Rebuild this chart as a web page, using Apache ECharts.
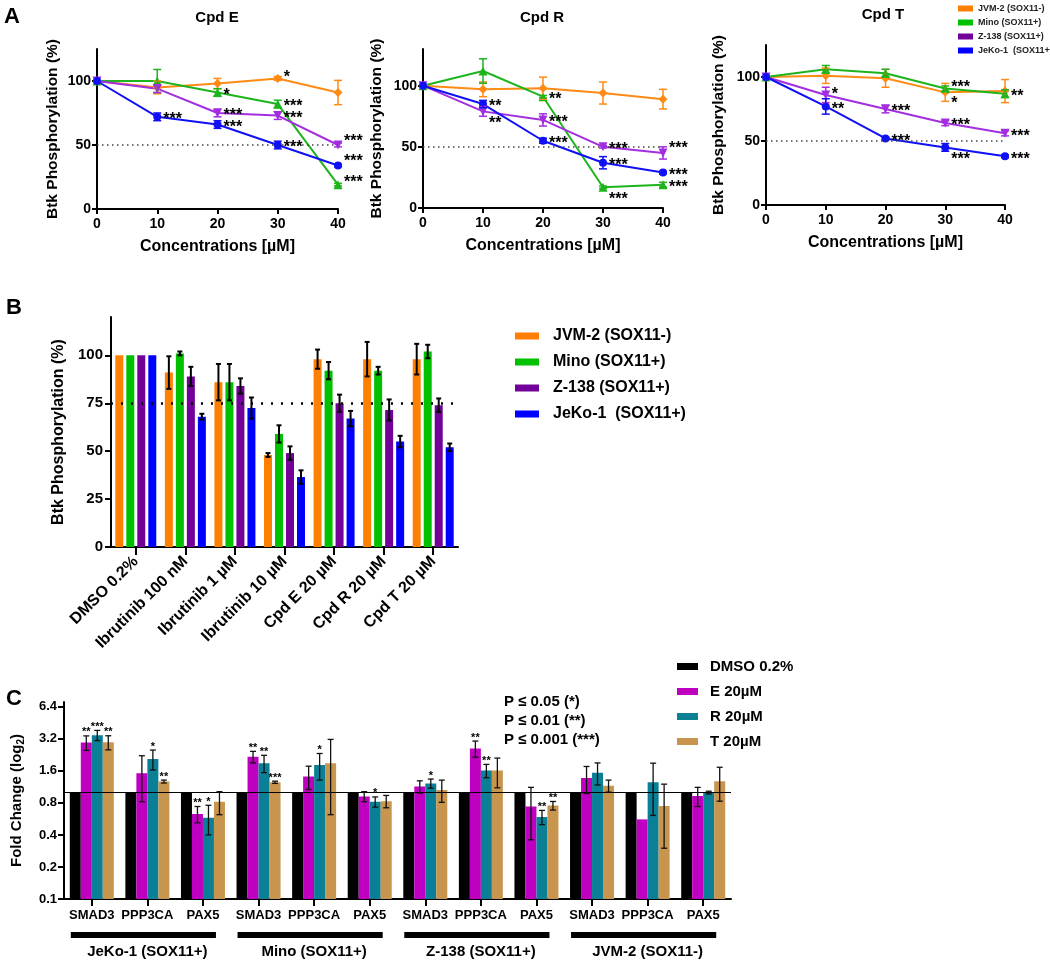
<!DOCTYPE html>
<html>
<head>
<meta charset="utf-8">
<script src="https://cdn.jsdelivr.net/npm/echarts@6.0.0/dist/echarts.min.js"></script>
<style>
  html, body { margin: 0; padding: 0; background: #fff; }
  #main { width: 1050px; height: 961px; }
</style>
</head>
<body>
<div id="main"></div>
<script>
// ---------- panel A : dose response ----------
const conc = [0, 10, 20, 30, 40];
const cellLines = ['JVM-2 (SOX11-)', 'Mino (SOX11+)', 'Z-138 (SOX11+)', 'JeKo-1  (SOX11+)'];
const refA = 50;

// Cpd E
const eJvm = [100, 95, 98, 102, 91];
const eJvmErr = [0, 5, 4, 1.5, 9.5];
const eJvmStars = ['', '', '', '*', ''];
const eMino = [100, 100, 91, 82, 19];
const eMinoErr = [0, 9, 3, 3, 1];
const eMinoStars = ['', '', '*', '***', '***'];
const eZ138 = [100, 94, 75, 73, 50];
const eZ138Err = [0, 3, 3, 3, 1.5];
const eZ138Stars = ['', '', '***', '***', '***'];
const eJeko = [100, 72, 66, 50, 34];
const eJekoErr = [0, 3, 3, 3, 1];
const eJekoStars = ['', '***', '***', '***', '***'];

// Cpd R
const rJvm = [100, 97, 98, 94, 89];
const rJvmErr = [0, 6, 9, 9, 8];
const rJvmStars = ['', '', '', '', ''];
const rMino = [100, 112, 91, 17, 19];
const rMinoErr = [0, 10, 1, 1, 2];
const rMinoStars = ['', '', '**', '***', '***'];
const rZ138 = [100, 79, 72, 50, 45];
const rZ138Err = [0, 4, 5, 1, 5];
const rZ138Stars = ['', '**', '***', '***', '***'];
const rJeko = [100, 85, 55, 37, 29];
const rJekoErr = [0, 3, 2, 5, 1];
const rJekoStars = ['', '**', '***', '***', '***'];

// Cpd T
const tJvm = [100, 101, 99, 88, 89];
const tJvmErr = [0, 6, 7, 7, 9];
const tJvmStars = ['', '', '', '*', ''];
const tMino = [100, 106, 103, 91, 87];
const tMinoErr = [0, 3, 3, 2, 3];
const tMinoStars = ['', '', '', '***', '**'];
const tZ138 = [100, 86, 75, 64, 56];
const tZ138Err = [0, 6, 3, 2, 2];
const tZ138Stars = ['', '*', '***', '***', '***'];
const tJeko = [100, 77, 52, 45, 38];
const tJekoErr = [0, 6, 1, 3, 1];
const tJekoStars = ['', '**', '***', '***', '***'];

// star nudges (chart, series, point, dy px)
const starNudge = [['E', 0, 3, -4], ['E', 1, 4, -5], ['E', 2, 4, -6], ['E', 3, 4, -7],
  ['R', 2, 1, 9], ['R', 1, 3, 9], ['R', 2, 4, -7], ['T', 0, 3, 8], ['T', 3, 3, 9], ['T', 1, 3, -4], ['T', 2, 1, -3]];

// ---------- panel B : bars ----------
const bCats = ['DMSO 0.2%', 'Ibrutinib 100 nM', 'Ibrutinib 1 \u00b5M', 'Ibrutinib 10 \u00b5M', 'Cpd E 20 \u00b5M', 'Cpd R 20 \u00b5M', 'Cpd T 20 \u00b5M'];
const bJvm = [100, 91, 86, 48, 98, 98, 98];
const bJvmErr = [0, 8.5, 9.5, 1, 5, 9, 8];
const bMino = [100, 101, 86, 59, 92, 92, 102];
const bMinoErr = [0, 1, 9.5, 4.5, 4.5, 2, 3.5];
const bZ138 = [100, 89, 84, 49, 75, 71.5, 74];
const bZ138Err = [0, 5, 4, 3.5, 4.5, 5.5, 3.5];
const bJeko = [100, 68, 72.5, 36.5, 67, 55, 52];
const bJekoErr = [0, 1.5, 5.5, 3.5, 4, 3, 2];
const refB = 75;

// ---------- panel C : fold change ----------
const genes = ['SMAD3', 'PPP3CA', 'PAX5'];
const cLines = ['JeKo-1 (SOX11+)', 'Mino (SOX11+)', 'Z-138 (SOX11+)', 'JVM-2 (SOX11-)'];
const cNames = ['DMSO 0.2%', 'E 20\u00b5M', 'R 20\u00b5M', 'T 20\u00b5M'];
const cDmso = [1, 1, 1, 1, 1, 1, 1, 1, 1, 1, 1, 1];
const cE = [2.95, 1.52, 0.63, 2.17, 1.42, 0.92, 1.14, 2.6, 0.74, 1.37, 0.56, 0.93];
const cEErr = [0.46, 0.7, 0.11, 0.27, 0.35, 0.1, 0.15, 0.45, 0.38, 0.39, 0, 0.19];
const cEStars = ['**', '', '**', '**', '', '', '', '**', '', '', '', ''];
const cR = [3.46, 2.07, 0.58, 1.89, 1.82, 0.82, 1.22, 1.61, 0.59, 1.54, 1.25, 1.0];
const cRErr = [0.38, 0.44, 0.18, 0.35, 0.51, 0.09, 0.12, 0.23, 0.09, 0.36, 0.64, 0.03];
const cRStars = ['***', '*', '*', '**', '*', '*', '*', '**', '**', '', '', ''];
const cT = [2.97, 1.27, 0.82, 1.25, 1.89, 0.83, 1.06, 1.61, 0.755, 1.16, 0.75, 1.28];
const cTErr = [0.45, 0.04, 0.2, 0.03, 1.27, 0.11, 0.25, 0.5, 0.07, 0.15, 0.45, 0.45];
const cTStars = ['**', '**', '', '***', '', '', '', '', '**', '', '', ''];
const cTicks = [0.1, 0.2, 0.4, 0.8, 1.6, 3.2, 6.4];

const FONT = '"Liberation Sans", Arial, sans-serif';
const colA = ['#FF8A14', '#1DB41D', '#A32EE0', '#1010F5'];
const colB = ['#FF8000', '#00C000', '#730099', '#0000FF'];
const colC = ['#000000', '#C000C0', '#0B7F96', '#C8954F'];
const symA = ['diamond', 'triangle', 'triangle', 'circle'];

const chart = echarts.init(document.getElementById('main'));

function ax(o) {
  const base = {
    axisLine: { show: true, onZero: false, lineStyle: { color: '#000', width: 2 } },
    axisTick: { show: true, inside: false, length: 5, lineStyle: { color: '#000', width: 2 } },
    axisLabel: { color: '#000', fontFamily: FONT, fontWeight: 'bold', fontSize: 14 },
    splitLine: { show: false },
    nameTextStyle: { color: '#000', fontFamily: FONT, fontWeight: 'bold', fontSize: 15 }
  };
  const r = Object.assign({}, base, o);
  ['axisLine', 'axisTick', 'axisLabel', 'nameTextStyle'].forEach(k => {
    r[k] = Object.assign({}, base[k], o[k] || {});
  });
  return r;
}

// error bars + significance stars, positioned through the axes
function errSeries(xi, yi, xs, means, errs, opt) {
  return {
    type: 'custom', xAxisIndex: xi, yAxisIndex: yi, silent: true, z: opt.z || 5,
    data: means.map((m, i) => [xs[i], m, errs[i]]),
    renderItem(params, api) {
      const i = params.dataIndex;
      const xv = api.value(0), m = api.value(1), e = api.value(2);
      const p = api.coord([xv, m]);
      const x = p[0] + (opt.offset || 0);
      const kids = [];
      let top = p[1];
      const st = { stroke: opt.color, lineWidth: opt.lw };
      if (e > 0) {
        const hi = api.coord([xv, m + e])[1];
        const lo = api.coord([xv, m - e])[1];
        const w = opt.cap / 2;
        kids.push({ type: 'line', shape: { x1: x, y1: hi, x2: x, y2: lo }, style: st });
        kids.push({ type: 'line', shape: { x1: x - w, y1: hi, x2: x + w, y2: hi }, style: st });
        kids.push({ type: 'line', shape: { x1: x - w, y1: lo, x2: x + w, y2: lo }, style: st });
        top = hi;
      }
      const s = opt.stars && opt.stars[i];
      if (s) {
        if (opt.above) {
          kids.push({ type: 'text', style: { text: s, x: x, y: top + 2, align: 'center', verticalAlign: 'bottom', font: 'bold 11px ' + FONT, fill: '#000' } });
        } else {
          const dy = (opt.shift && opt.shift[i]) || 0;
          kids.push({ type: 'text', style: { text: s, x: p[0] + 6, y: p[1] + 3 + dy, align: 'left', verticalAlign: 'middle', font: 'bold 16px ' + FONT, fill: '#000' } });
        }
      }
      return { type: 'group', children: kids };
    }
  };
}

const aCharts = [
  { key: 'E', vals: [eJvm, eMino, eZ138, eJeko], errs: [eJvmErr, eMinoErr, eZ138Err, eJekoErr], stars: [eJvmStars, eMinoStars, eZ138Stars, eJekoStars], yMax: 125 },
  { key: 'R', vals: [rJvm, rMino, rZ138, rJeko], errs: [rJvmErr, rMinoErr, rZ138Err, rJekoErr], stars: [rJvmStars, rMinoStars, rZ138Stars, rJekoStars], yMax: 130 },
  { key: 'T', vals: [tJvm, tMino, tZ138, tJeko], errs: [tJvmErr, tMinoErr, tZ138Err, tJekoErr], stars: [tJvmStars, tMinoStars, tZ138Stars, tJekoStars], yMax: 125 }
];
const aGrids = [
  { left: 97, top: 49, width: 241, height: 160 },
  { left: 423, top: 49, width: 240, height: 159 },
  { left: 766, top: 45, width: 239, height: 160 }
];
const aNameGap = [36, 38, 39];

const grids = aGrids.concat([
  { left: 111, top: 317, width: 347, height: 230 },
  { left: 64, top: 702, width: 667, height: 197 }
]);

const xAxes = [], yAxes = [], series = [];

aCharts.forEach((c, k) => {
  xAxes.push(ax({ gridIndex: k, type: 'value', min: 0, max: 40,
    axisLabel: { customValues: conc, margin: 8 }, axisTick: { customValues: conc },
    name: 'Concentrations [\u00b5M]', nameLocation: 'middle', nameGap: 30, nameTextStyle: { fontSize: 16 } }));
  yAxes.push(ax({ gridIndex: k, type: 'value', min: 0, max: c.yMax,
    axisLabel: { customValues: [0, 50, 100], margin: 6 }, axisTick: { customValues: [0, 50, 100] },
    name: 'Btk Phosphorylation (%)', nameLocation: 'middle', nameGap: aNameGap[k], nameTextStyle: { fontSize: 15.5 } }));
  c.vals.forEach((v, s) => {
    const shift = [0, 0, 0, 0, 0];
    starNudge.forEach(n => { if (n[0] === c.key && n[1] === s) shift[n[2]] = n[3]; });
    series.push({
      type: 'line', name: cellLines[s], xAxisIndex: k, yAxisIndex: k, z: 4, clip: false,
      data: conc.map((x, i) => [x, v[i]]),
      symbol: symA[s], symbolRotate: s === 2 ? 180 : 0, symbolSize: s === 3 ? 8 : 9,
      lineStyle: { color: colA[s], width: 2 }, itemStyle: { color: colA[s] },
      markLine: s === 0 ? {
        silent: true, symbol: ['none', 'none'], label: { show: false },
        lineStyle: { color: '#444', type: [1.5, 3.5], width: 1.5 }, data: [{ yAxis: refA }]
      } : undefined
    });
    series.push(errSeries(k, k, conc, v, c.errs[s], { color: colA[s], lw: 1.5, cap: 8, stars: c.stars[s], shift: shift }));
  });
});

// panel B axes (index 3)
xAxes.push(ax({ gridIndex: 3, type: 'category', data: bCats,
  axisTick: { alignWithLabel: true, length: 8 },
  axisLabel: { interval: 0, rotate: 45, margin: 12, fontSize: 16 } }));
yAxes.push(ax({ gridIndex: 3, type: 'value', min: 0, max: 120,
  axisLabel: { customValues: [0, 25, 50, 75, 100], fontSize: 15, margin: 8 },
  axisTick: { customValues: [0, 25, 50, 75, 100], length: 6 },
  name: 'Btk Phosphorylation (%)', nameLocation: 'middle', nameGap: 44, nameTextStyle: { fontSize: 16 } }));

const bVals = [bJvm, bMino, bZ138, bJeko];
const bErrs = [bJvmErr, bMinoErr, bZ138Err, bJekoErr];
bVals.forEach((v, s) => {
  series.push({
    type: 'bar', name: cellLines[s], xAxisIndex: 3, yAxisIndex: 3, data: v,
    barWidth: 8, barGap: '37.5%', itemStyle: { color: colB[s] },
    markLine: s === 0 ? {
      silent: true, symbol: ['none', 'none'], label: { show: false },
      lineStyle: { color: '#000', type: [2, 8], width: 2.5 }, data: [{ yAxis: refB }]
    } : undefined
  });
  series.push(errSeries(3, 3, bCats.map((c, i) => i), v, bErrs[s], { color: '#000', lw: 2, cap: 5, offset: (s - 1.5) * 11 }));
});

// panel C axes (x index 4, 5; y index 4)
const cCats = [];
cLines.forEach(l => genes.forEach(g => cCats.push(l + '|' + g)));
xAxes.push(ax({ gridIndex: 4, type: 'category', data: cCats,
  axisTick: { alignWithLabel: true, length: 7 },
  axisLabel: { interval: 0, margin: 10, fontSize: 13, formatter: v => v.split('|')[1] } }));
xAxes.push(ax({ gridIndex: 4, type: 'category', data: cLines, position: 'bottom', offset: 40,
  axisLine: { show: false }, axisTick: { show: false },
  axisLabel: { interval: 0, margin: 5, fontSize: 15 } }));
yAxes.push(ax({ gridIndex: 4, type: 'log', logBase: 2, min: 0.1, max: 7.1, startValue: 0.1,
  axisLabel: { customValues: cTicks, fontSize: 13, margin: 7, formatter: v => String(+(+v).toFixed(1)) },
  axisTick: { customValues: cTicks, length: 6 },
  name: 'Fold Change (log{s|2})', nameLocation: 'middle', nameGap: 38,
  nameTextStyle: { fontSize: 15, rich: { s: { fontSize: 10, fontWeight: 'bold', fontFamily: FONT, color: '#000', padding: [8, 0, 0, 0] } } } }));

const cVals = [cDmso, cE, cR, cT];
const cErrs = [null, cEErr, cRErr, cTErr];
const cStars = [null, cEStars, cRStars, cTStars];
cVals.forEach((v, s) => {
  series.push({
    type: 'bar', name: cNames[s], xAxisIndex: 4, yAxisIndex: 4, data: v,
    barWidth: 11, barGap: '0%', itemStyle: { color: colC[s] },
    markLine: s === 0 ? {
      silent: true, symbol: ['none', 'none'], label: { show: false },
      lineStyle: { color: '#000', type: 'solid', width: 1.2 }, data: [{ yAxis: 1 }]
    } : undefined
  });
  if (s > 0) {
    series.push(errSeries(4, 4, cCats.map((c, i) => i), v, cErrs[s], { color: '#111', lw: 1.3, cap: 6, offset: (s - 1.5) * 11, stars: cStars[s], above: true }));
  }
});

function txt(id, text, x, y, size, align) {
  return { type: 'text', id: id, x: x, y: y, silent: true,
    style: { text: text, font: 'bold ' + size + 'px ' + FONT, fill: '#000', align: align || 'center', verticalAlign: 'middle' } };
}

const legendText = { fontFamily: FONT, fontWeight: 'bold', color: '#000' };

chart.setOption({
  animation: false,
  backgroundColor: '#fff',
  grid: grids,
  xAxis: xAxes,
  yAxis: yAxes,
  series: series,
  legend: [
    { orient: 'vertical', left: 953, top: -1, itemWidth: 15, itemHeight: 6, itemGap: 5, icon: 'rect', selectedMode: false,
      textStyle: { fontSize: 9, color: '#222', fontFamily: FONT, fontWeight: 'bold' },
      data: cellLines.map((n, i) => ({ name: n, itemStyle: { color: colB[i] } })) },
    { orient: 'vertical', left: 510, top: 323, itemWidth: 24, itemHeight: 7, itemGap: 10, icon: 'rect', selectedMode: false,
      textStyle: Object.assign({ fontSize: 16, padding: [0, 0, 0, 9] }, legendText),
      data: cellLines.map((n, i) => ({ name: n, itemStyle: { color: colB[i] } })) },
    { orient: 'vertical', left: 672, top: 654, itemWidth: 21, itemHeight: 7, itemGap: 10, icon: 'rect', selectedMode: false,
      textStyle: Object.assign({ fontSize: 15, padding: [0, 0, 0, 7] }, legendText),
      data: cNames.map((n, i) => ({ name: n, itemStyle: { color: colC[i] } })) }
  ],
  graphic: [
    txt('la', 'A', 12, 17, 22), txt('lb', 'B', 14, 308, 22), txt('lc', 'C', 14, 699, 22),
    txt('t1', 'Cpd E', 217, 18, 15), txt('t2', 'Cpd R', 542, 18, 15), txt('t3', 'Cpd T', 883, 15, 15),
    txt('p1', 'P \u2264 0.05 (*)', 504, 702, 15, 'left'),
    txt('p2', 'P \u2264 0.01 (**)', 504, 721, 15, 'left'),
    txt('p3', 'P \u2264 0.001 (***)', 504, 740, 15, 'left')
  ]
});

// thick rules under each cell-line group of panel C
const ruleY = chart.convertToPixel({ yAxisIndex: 4 }, 0.1) + 33;
chart.setOption({
  graphic: cLines.map((l, g) => {
    const a = chart.convertToPixel({ xAxisIndex: 4 }, cCats[g * 3]);
    const b = chart.convertToPixel({ xAxisIndex: 4 }, cCats[g * 3 + 2]);
    return { type: 'rect', id: 'rule' + g, silent: true,
      shape: { x: a - 21, y: ruleY, width: b - a + 34, height: 6 }, style: { fill: '#000' } };
  })
});
</script>
</body>
</html>
